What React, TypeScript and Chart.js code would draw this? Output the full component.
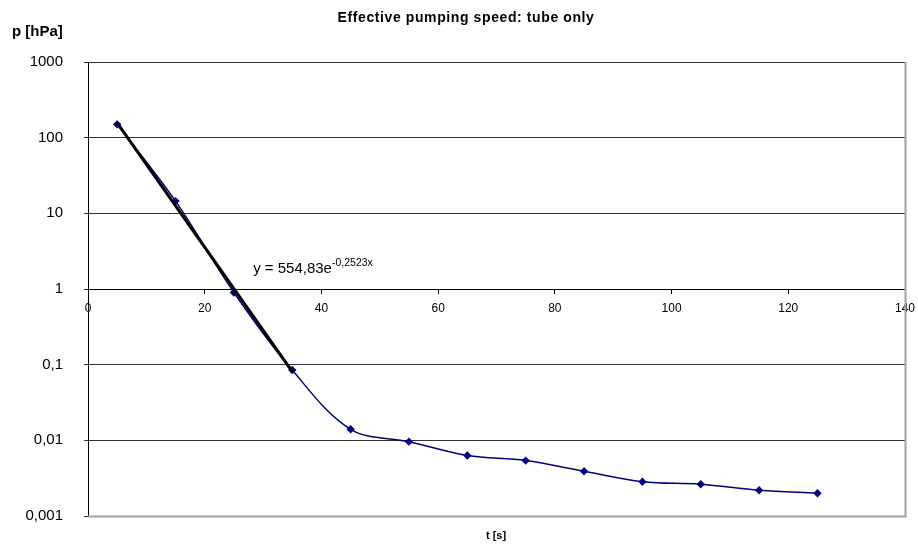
import React, { useEffect, useRef } from "react";
import { Chart, registerables } from "chart.js";

Chart.register(...registerables);

const timeS = [5, 15, 25, 35, 45, 55, 65, 75, 85, 95, 105, 115, 125];
const pressureHPa = [150, 14.5, 0.9, 0.085, 0.014, 0.0096, 0.0063, 0.0054, 0.0039, 0.00284, 0.00263, 0.00219, 0.002];
const trendX = [5, 35];
const trendY = [157, 0.081];
const yTickValues = [0.001, 0.01, 0.1, 1, 10, 100, 1000];
const yTickLabels = ["0,001", "0,01", "0,1", "1", "10", "100", "1000"];
const xTickValues = [0, 20, 40, 60, 80, 100, 120, 140];

const titleText = "Effective pumping speed: tube only";
const yTitle = "p [hPa]";
const xTitle = "t [s]";
const eqMain = "y = 554,83e";
const eqSup = "-0,2523x";

const FONT = "'Liberation Sans', Arial, Helvetica, sans-serif";

const decorPlugin = {
  id: "decor",
  beforeDatasetsDraw(chart: any) {
    const { ctx, chartArea } = chart;
    ctx.save();
    ctx.strokeStyle = "#a0a0a0";
    ctx.lineWidth = 2;
    ctx.beginPath();
    ctx.moveTo(chartArea.left, chartArea.bottom + 0.5);
    ctx.lineTo(chartArea.right + 0.5, chartArea.bottom + 0.5);
    ctx.lineTo(chartArea.right + 0.5, chartArea.top);
    ctx.stroke();
    ctx.restore();
  },
  afterDraw(chart: any) {
    const { ctx } = chart;
    const xs = chart.scales.x;
    const ys = chart.scales.y;
    ctx.save();
    ctx.fillStyle = "#000";
    ctx.textBaseline = "middle";
    ctx.textAlign = "center";
    ctx.font = `bold 14px ${FONT}`;
    (ctx as any).letterSpacing = "0.6px";
    ctx.fillText(titleText, 466, 18);
    (ctx as any).letterSpacing = "0px";
    ctx.font = `bold 15px ${FONT}`;
    ctx.textAlign = "left";
    ctx.fillText(yTitle, 12, 32);
    ctx.font = `bold 11px ${FONT}`;
    ctx.textAlign = "center";
    ctx.fillText(xTitle, 496, 536);
    // trendline equation label
    const ex = xs.getPixelForValue(28.3);
    const ey = ys.getPixelForValue(1) - 20;
    ctx.textAlign = "left";
    ctx.font = `15px ${FONT}`;
    ctx.fillText(eqMain, ex, ey);
    const w = ctx.measureText(eqMain).width;
    ctx.font = `10.5px ${FONT}`;
    ctx.fillText(eqSup, ex + w, ey - 6);
    ctx.restore();
  },
};

export default function App() {
  const ref = useRef<HTMLCanvasElement | null>(null);
  useEffect(() => {
    document.body.style.margin = "0";
    const canvas = ref.current!;
    const chart = new Chart(canvas, {
      type: "line",
      data: {
        datasets: [
          {
            label: "trend",
            data: trendX.map((x, i) => ({ x, y: trendY[i] })),
            borderColor: "#000",
            borderWidth: 3,
            pointRadius: 0,
            tension: 0,
            order: 0,
          },
          {
            label: "p",
            data: timeS.map((x, i) => ({ x, y: pressureHPa[i] })),
            borderColor: "#000080",
            backgroundColor: "#000080",
            borderWidth: 1.5,
            pointStyle: "rectRot",
            pointRadius: 4.2,
            pointBorderWidth: 0,
            pointBackgroundColor: "#000080",
            tension: 0.35,
            order: 1,
          },
        ],
      },
      options: {
        animation: false,
        responsive: false,
        maintainAspectRatio: false,
        layout: { padding: { top: 62, bottom: 28, right: 13, left: 0 } },
        plugins: { legend: { display: false }, tooltip: { enabled: false }, title: { display: false } },
        scales: {
          x: {
            type: "linear",
            min: 0,
            max: 140,
            position: { y: 1 } as any,
            afterBuildTicks: (s: any) => {
              s.ticks = xTickValues.map((v) => ({ value: v }));
            },
            afterFit: (s: any) => {
              s.paddingLeft = 0;
              s.paddingRight = 0;
            },
            grid: { drawOnChartArea: false, drawTicks: true, tickLength: 4, color: "#000" },
            border: { display: true, color: "#000", width: 1 },
            ticks: { color: "#000", font: { family: FONT, size: 12 }, padding: 8, maxRotation: 0 },
          },
          y: {
            type: "logarithmic",
            min: 0.001,
            max: 1000,
            afterBuildTicks: (s: any) => {
              s.ticks = yTickValues.map((v) => ({ value: v }));
            },
            afterFit: (s: any) => {
              s.width = 88;
              s.paddingTop = 0;
              s.paddingBottom = 0;
            },
            grid: { color: "#333", tickLength: 4, drawTicks: true, lineWidth: 1 },
            border: { display: true, color: "#000", width: 1 },
            ticks: {
              color: "#000",
              font: { family: FONT, size: 15 },
              padding: 21,
              callback: (v: any) => {
                const i = yTickValues.findIndex((t) => Math.abs(Math.log10(t) - Math.log10(v)) < 1e-6);
                return i >= 0 ? yTickLabels[i] : "";
              },
            },
          },
        },
      },
      plugins: [decorPlugin],
    });
    return () => chart.destroy();
  }, []);
  return (
    <div style={{ width: 918, height: 544, background: "#fff" }}>
      <canvas ref={ref} width={918} height={544} style={{ width: 918, height: 544, display: "block" }} />
    </div>
  );
}
